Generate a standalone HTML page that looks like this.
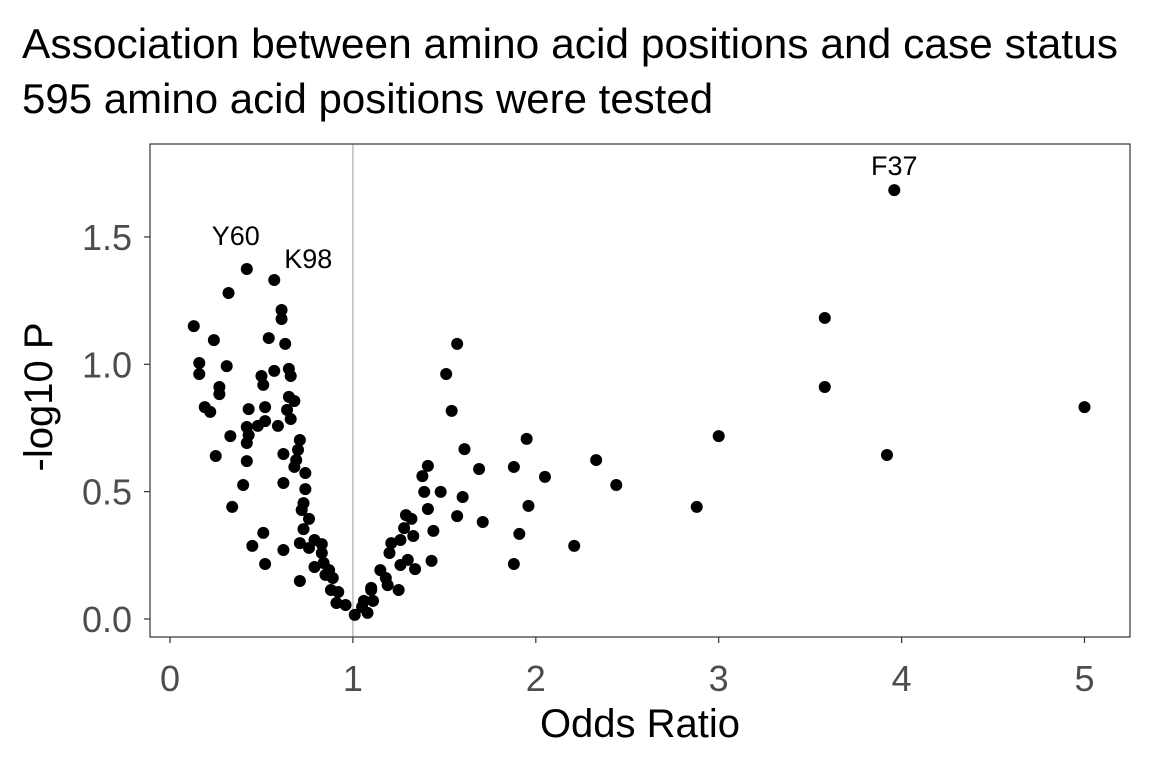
<!DOCTYPE html>
<html><head><meta charset="utf-8"><style>
body{margin:0;background:#fff;font-family:"Liberation Sans",Arial,sans-serif}
svg{display:block}
</style></head><body>
<svg id="chart" width="1152" height="768">
<text x="22" y="58" font-size="42" textLength="1096" lengthAdjust="spacingAndGlyphs" fill="#000">Association between amino acid positions and case status</text>
<text x="22" y="113" font-size="42" fill="#000">595 amino acid positions were tested</text>
<g id="plot"></g>
</svg>
<script>
const xs=[0.42,0.57,0.32,0.61,0.61,0.13,0.24,0.54,0.63,0.16,0.16,0.31,0.57,0.65,0.66,0.50,0.51,0.27,0.27,0.19,0.22,0.43,0.52,0.65,0.68,0.64,0.66,0.42,0.48,0.52,0.59,0.33,0.43,0.42,0.71,0.70,0.25,0.42,0.62,0.69,0.68,0.74,0.40,0.62,0.74,0.73,0.72,0.76,0.73,0.34,0.51,0.45,0.62,0.52,0.71,0.76,0.79,0.83,0.83,0.79,0.84,0.87,0.85,0.89,0.71,0.88,0.92,0.91,0.96,1.01,1.05,1.08,1.10,1.57,1.51,1.54,1.61,1.41,1.38,1.39,1.48,1.60,1.41,1.57,1.71,1.44,1.43,1.69,1.88,1.95,2.05,1.96,1.91,1.88,2.21,1.29,1.32,1.28,1.33,1.26,1.21,1.20,1.26,1.30,1.34,1.15,1.18,1.19,1.25,1.10,1.11,1.06,2.33,2.44,2.88,3.00,3.58,3.58,3.92,5.00,3.96];
const ys=[1.374,1.331,1.28,1.213,1.178,1.150,1.095,1.103,1.080,1.005,0.962,0.993,0.974,0.982,0.954,0.954,0.919,0.911,0.883,0.832,0.813,0.824,0.832,0.872,0.856,0.821,0.785,0.754,0.758,0.777,0.758,0.718,0.722,0.691,0.703,0.664,0.640,0.620,0.648,0.624,0.597,0.573,0.526,0.534,0.510,0.455,0.428,0.393,0.353,0.440,0.338,0.287,0.271,0.216,0.298,0.279,0.310,0.294,0.259,0.204,0.220,0.192,0.173,0.161,0.149,0.114,0.106,0.063,0.055,0.016,0.047,0.024,0.114,1.080,0.962,0.817,0.667,0.601,0.561,0.499,0.499,0.479,0.432,0.404,0.381,0.346,0.228,0.589,0.597,0.707,0.558,0.444,0.334,0.216,0.287,0.408,0.393,0.357,0.326,0.310,0.298,0.259,0.212,0.232,0.196,0.192,0.161,0.133,0.114,0.122,0.071,0.071,0.624,0.526,0.440,0.718,1.182,0.911,0.644,0.832,1.684];
const xTicks=[0,1,2,3,4,5];
const yTicks=[0.0,0.5,1.0,1.5];
const yTickLabels=["0.0","0.5","1.0","1.5"];
const labelNames=["Y60","K98","F37"];
const labelX=[0.42,0.57,3.96];
const labelY=[1.374,1.331,1.684];
const labelDx=[-11,34,0];
const labelDy=[-24,-12,-15];

const L=150,T=144,R=1130,B=637;
const X=v=>170+v*182.9;
const Y=v=>619-v*254.7;
const NS="http://www.w3.org/2000/svg";
const g=document.getElementById('plot');
function mk(t,a){const e=document.createElementNS(NS,t);for(const k in a)e.setAttribute(k,a[k]);g.appendChild(e);return e;}

const vl=mk('line',{x1:X(1),x2:X(1),y1:T,y2:B,stroke:'#bdbdbd','stroke-width':1.5});



xs.forEach((x,i)=>{
  const c=mk('circle',{cx:X(x),cy:Y(ys[i]),r:6,fill:'#000'});
  
  
});
labelNames.forEach((n,i)=>{
  const t=mk('text',{x:X(labelX[i])+labelDx[i],y:Y(labelY[i])+labelDy[i],'font-size':27,'text-anchor':'middle',fill:'#000'});
  t.textContent=n;
  
  
});
const fr=mk('rect',{x:L,y:T,width:R-L,height:B-T,fill:'none',stroke:'#333','stroke-width':1.2});


xTicks.forEach(v=>{
  const l=mk('line',{x1:X(v),x2:X(v),y1:B,y2:B+6,stroke:'#333','stroke-width':1.2});
  
  
  const t=mk('text',{x:X(v),y:B+54,'font-size':36,'text-anchor':'middle',fill:'#4d4d4d'});
  t.textContent=v;
  
  
});
yTicks.forEach((v,i)=>{
  const l=mk('line',{x1:L-6,x2:L,y1:Y(v),y2:Y(v),stroke:'#333','stroke-width':1.2});
  
  
  const t=mk('text',{x:L-18,y:Y(v)+13,'font-size':36,'text-anchor':'end',fill:'#4d4d4d'});
  t.textContent=yTickLabels[i];
  
  
});
const xt=mk('text',{x:640,y:737,'font-size':40,'text-anchor':'middle',fill:'#000'});
xt.textContent='Odds Ratio';


const yt=mk('text',{x:0,y:0,'font-size':40,'text-anchor':'middle',fill:'#000',transform:'translate(52,397) rotate(-90)'});
yt.textContent='-log10 P';


</script>
</body></html>
